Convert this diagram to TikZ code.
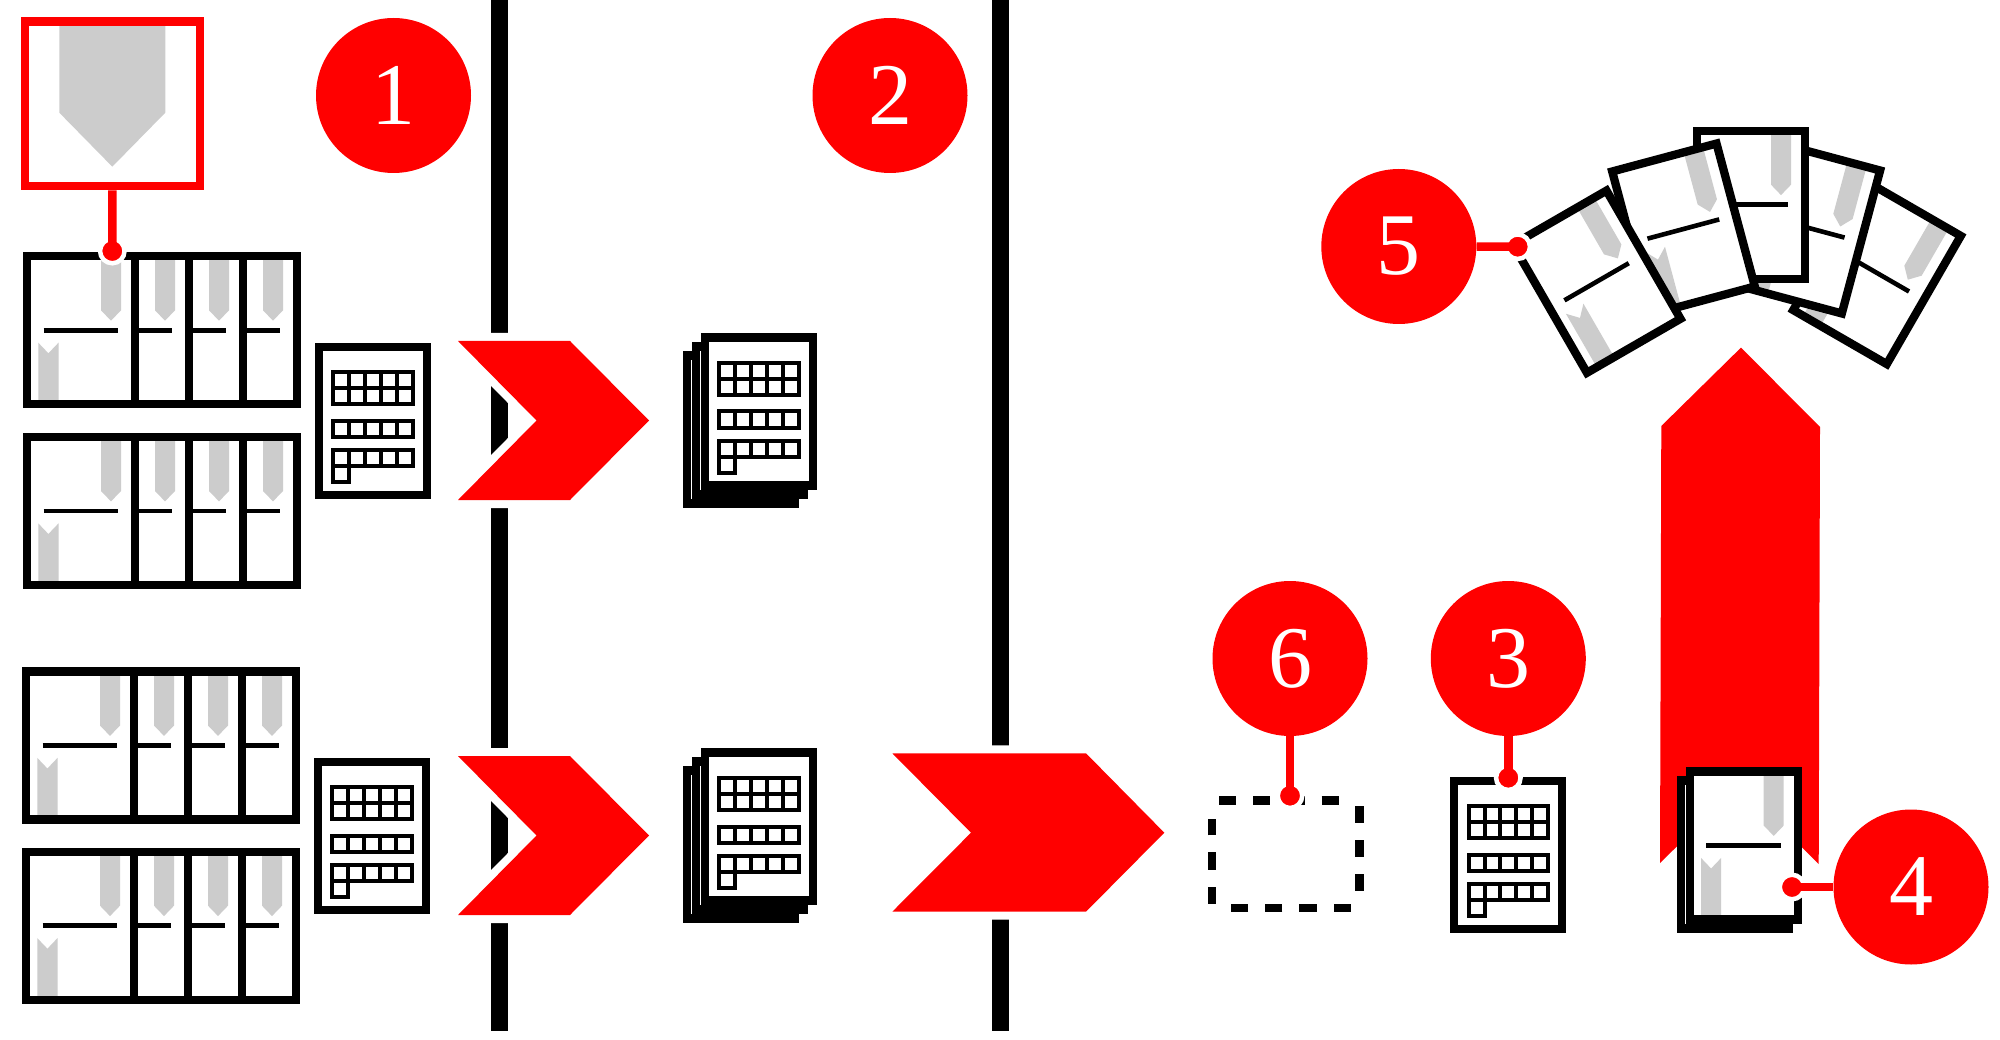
\documentclass[tikz,border=0pt]{standalone}
\usepackage{fontspec}
\newfontfamily\badgefont{Liberation Serif}
\definecolor{shieldgrey}{HTML}{CCCCCC}
\tikzset{
  frame/.style={draw=black, line width=8.3pt, line join=miter},
  cell/.style={draw=black, line width=4pt},
  shield/.style={fill=shieldgrey},
  % One leaf of a book, drawn about its centre.
  leaf/.pic={
    \fill [white] (-54, -74) rectangle (54, 74);
    \fill [shield] (20, -74) -- (40, -74) -- (40, -20) -- (30, -9.6) -- (20, -20) -- cycle;
    \fill [shield] (-42.7, 74) -- (-42.7, 12.4) -- (-32.6, 23) -- (-22.5, 12.4) -- (-22.5, 74) -- cycle;
    \draw [line width=4.6pt] (-37.3, 0) -- (37, 0);
    \draw [frame] (-54, -74) rectangle (54, 74);
  },
  % One form with its rows of cells.
  form/.pic={
    \draw [frame, fill=white] (-54, -74) rectangle (54, 74);
    \foreach \rowy in {-48.7, -32.7, 0, 29}
      \foreach \col in {0, ..., 4}
        \draw [cell] ({-39.7 + 15.9 * \col}, \rowy) rectangle ++(15.9, 16);
    \draw [cell] (-39.7, 45) rectangle ++(15.9, 16);
  },
  chevron/.pic={
    \path [fill=red, preaction={draw=white, line width=16pt}]
      (-91, -79.5) -- (21, -79.5) -- (100, 0) -- (21, 79.5) -- (-91, 79.5) -- (-12.5, 0) -- cycle;
  }
}
\begin{document}
\begin{tikzpicture}[x=1pt, y=-1pt,
                    badge/.style={circle, fill=red, text=white, inner sep=0pt, minimum size=155pt,
                                  font=\badgefont\fontsize{88pt}{100pt}\selectfont},
                    dot/.style={circle, fill=red, draw=white, line width=4.5pt, inner sep=0pt,
                                minimum size=24.5pt},
                    leader/.style={draw=red, line width=8.5pt},
                    divider/.style={line width=17pt},
                    slotside/.style={line width=8.7pt, dash pattern=on 17.2pt off 17pt}]
  \useasboundingbox (0, 0) rectangle (2000, 1040);

  % Dividers.
  \draw [divider] (499.7, 0) -- (499.7, 1031);
  \draw [divider] (1000, 0) -- (1000, 1031);

  % Enlarged bookmark.
  \fill [shield] (59.3, 25) -- (165.3, 25) -- (165.3, 112.7) -- (112.3, 166.7) -- (59.3, 112.7) -- cycle;
  \node at (112.5, 103.8) [draw=red, line width=8.7pt, inner sep=0pt, minimum width=175pt,
                           minimum height=164.3pt, name=ZoomBox] {};

  % Books, back leaf first.
  \foreach \rowx/\rowy in {81/330.3, 81/511, 80/745.5, 80/925.7}
    \foreach \leafshift in {162, 108, 54, 0}
      \pic at ({\rowx + \leafshift}, \rowy) {leaf};

  % Forms and piles of forms.
  \pic at (373, 421) {form};
  \pic at (372, 836) {form};
  \foreach \pileshift in {18, 9, 0} {
    \pic at ({759 - \pileshift}, {411.5 + \pileshift}) {form};
    \pic at ({759 - \pileshift}, {826.5 + \pileshift}) {form};
  }
  \pic at (1508.3, 854.7) {form};

  % Chevrons across the dividers.
  \pic at (549, 420.5) {chevron};
  \pic at (549, 835.5) {chevron};
  \path [fill=red, preaction={draw=white, line width=16pt}]
    (892.3, 753.3) -- (1086, 753.3) -- (1164.3, 832.7) -- (1086, 911.7) -- (892.3, 911.7) -- (971, 832.7) -- cycle;

  % Place left empty.
  \draw [slotside] (1219, 800.7) -- (1339, 800.7);
  \draw [slotside] (1359.3, 806) -- (1359.3, 891);
  \draw [slotside] (1350.7, 908) -- (1231, 908);
  \draw [slotside] (1212, 903.7) -- (1212, 818.7);

  % Rising arrow and the leaf in front of it.
  \fill [red] (1741, 347.6) -- (1820, 427) -- (1818.7, 864) -- (1739.4, 785) -- (1660, 863) -- (1661.3, 426) -- cycle;
  \pic at (1734.7, 854.5) {leaf};
  \pic at (1743.7, 845.5) {leaf};

  % Fan of leaves.
  \pic [rotate=-30] at (1877, 273) {leaf};
  \pic [rotate=-15] at (1808.8, 228) {leaf};
  \pic at (1751, 204.7) {leaf};
  \pic [rotate=15] at (1683.5, 229) {leaf};
  \pic [rotate=30] at (1596.7, 281.7) {leaf};

  % Numbered badges.
  \node at (393.5, 95.5) [badge, name=BadgeOne] {1};
  \node at (890, 95.5) [badge, name=BadgeTwo] {2};
  \node at (1508.3, 658.5) [badge, name=BadgeThree] {3};
  \node at (1911, 887) [badge, name=BadgeFour] {4};
  \node at (1398.8, 246.5) [badge, name=BadgeFive] {5};
  \node at (1290, 658.5) [badge, name=BadgeSix] {6};

  % End dots.
  \node at (112.3, 251) [dot, name=DotBook] {};
  \node at (1508.3, 777.7) [dot, name=DotThree] {};
  \node at (1792, 887) [dot, name=DotFour] {};
  \node at (1517.7, 246.7) [dot, name=DotFive] {};
  \node at (1290, 795.7) [dot, name=DotSix] {};

  % Leaders.
  \draw [leader] (ZoomBox) to (DotBook.center);
  \draw [leader] (BadgeThree) to (DotThree.center);
  \draw [leader] (BadgeFour) to (DotFour.center);
  \draw [leader] (BadgeFive) to (DotFive.center);
  \draw [leader] (BadgeSix) to (DotSix.center);
\end{tikzpicture}
\end{document}
